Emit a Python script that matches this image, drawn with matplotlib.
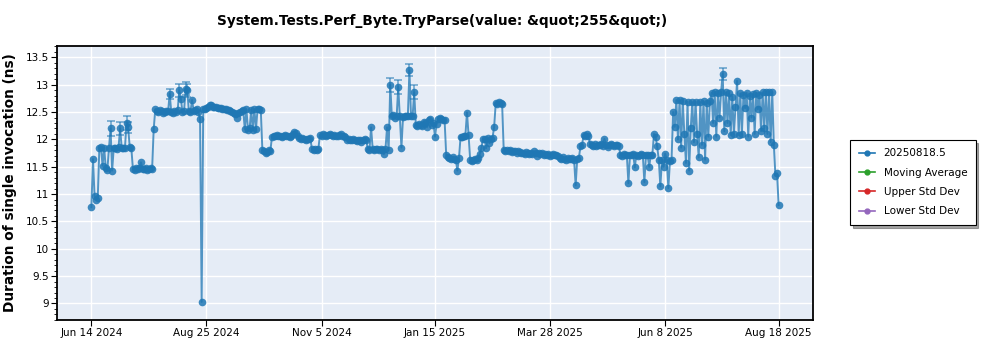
import numpy as np
import pandas as pd
import matplotlib
matplotlib.use("Agg")
import matplotlib.pyplot as plt
from matplotlib.ticker import MultipleLocator

# -----------------------
# Data (one value per day from Jun 14 2024)
# -----------------------
start_date = "2024-06-14"
durations = [
    10.76, 11.64, 10.97, 10.90, 10.93, 11.85, 11.86, 11.52, 11.85, 11.48,  # d0
    11.44, 11.84, 12.20, 11.43, 11.84, 11.85, 11.83, 11.86, 12.20, 11.84,  # d10
    11.85, 11.84, 12.30, 12.22, 11.86, 11.84, 11.46, 11.44, 11.47, 11.45,  # d20
    11.48, 11.58, 11.46, 11.45, 11.47, 11.44, 11.46, 11.47, 11.45, 12.19,  # d30
    12.55, 12.52, 12.50, 12.53, 12.51, 12.49, 12.50, 12.52, 12.51, 12.83,  # d40
    12.50, 12.49, 12.52, 12.50, 12.53, 12.90, 12.74, 12.50, 12.52, 12.93,  # d50
    12.90, 12.51, 12.50, 12.72, 12.52, 12.53, 12.55, 12.50, 12.38, 9.03,   # d60
    12.55, 12.56, 12.58, 12.60, 12.62, 12.63, 12.60, 12.59, 12.60, 12.58,  # d70
    12.57, 12.58, 12.56, 12.55, 12.56, 12.54, 12.53, 12.52, 12.50, 12.48,  # d80
    12.47, 12.40, 12.48, 12.50, 12.52, 12.53, 12.19, 12.55, 12.18, 12.20,  # d90
    12.54, 12.17, 12.55, 12.19, 12.56, 12.55, 12.54, 11.80, 11.78, 11.75,  # d100
    11.77, 11.80, 11.79, 12.05, 12.07, 12.06, 12.08, 12.07, 12.06, 12.05,  # d110
    12.07, 12.08, 12.07, 12.06, 12.05, 12.07, 12.10, 12.14, 12.12, 12.06,  # d120
    12.03, 12.00, 12.02, 12.00, 11.99, 12.01, 12.00, 12.02, 11.82, 11.80,  # d130
    11.83, 11.80, 11.82, 12.08, 12.07, 12.09, 12.08, 12.07, 12.08, 12.09,  # d140
    12.08, 12.07, 12.08, 12.06, 12.07, 12.08, 12.09, 12.07, 12.06, 12.05,  # d150
    11.99, 12.00, 11.98, 11.99, 12.00, 11.98, 11.97, 11.99, 11.98, 11.96,  # d160
    11.99, 12.00, 11.98, 11.82, 11.80, 12.22, 11.83, 11.81, 11.82, 11.83,  # d170
    11.80, 11.82, 11.81, 11.73, 11.82, 12.22, 11.80, 13.00, 12.42, 12.44,  # d180
    12.40, 12.42, 12.96, 12.42, 11.85, 12.41, 12.42, 12.43, 12.42, 13.26,  # d190
    12.42, 12.43, 12.86, 12.26, 12.25, 12.28, 12.26, 12.24, 12.32, 12.30,  # d200
    12.22, 12.35, 12.38, 12.26, 12.30, 12.05, 12.28, 12.38, 12.40, 12.38,  # d210
    12.36, 12.35, 11.72, 11.68, 11.66, 11.64, 11.67, 11.65, 11.63, 11.43,  # d220
    11.66, 12.05, 12.04, 12.06, 12.07, 12.49, 12.08, 11.63, 11.60, 11.62,  # d230
    11.64, 11.63, 11.66, 11.73, 11.84, 12.01, 12.00, 11.84, 12.02, 11.93,  # d240
    12.01, 12.03, 12.23, 12.66, 12.65, 12.68, 12.66, 12.64, 11.80, 11.78,  # d250
    11.81, 11.79, 11.80, 11.77, 11.78, 11.79, 11.76, 11.78, 11.77, 11.75,  # d260
    11.76, 11.74, 11.77, 11.75, 11.73, 11.76, 11.74, 11.78, 11.76, 11.70,  # d270
    11.75, 11.74, 11.76, 11.72, 11.74, 11.71, 11.73, 11.70, 11.72, 11.74,  # d280
    11.71, 11.72, 11.70, 11.66, 11.64, 11.67, 11.65, 11.62, 11.66, 11.64,  # d290
    11.65, 11.66, 11.63, 11.16, 11.65, 11.66, 11.87, 11.90, 12.08, 12.07,  # d300
    12.09, 12.06, 11.92, 11.90, 11.88, 11.91, 11.87, 11.90, 11.89, 11.92,  # d310
    11.88, 12.01, 11.90, 11.86, 11.89, 11.91, 11.90, 11.87, 11.89, 11.90,  # d320
    11.88, 11.72, 11.70, 11.73, 11.71, 11.72, 11.20, 11.72, 11.71, 11.73,  # d330
    11.49, 11.72, 11.70, 11.71, 11.73, 11.72, 11.22, 11.71, 11.72, 11.50,  # d340
    11.71, 11.72, 12.10, 12.05, 11.87, 11.63, 11.14, 11.63, 11.50, 11.74,  # d350
    11.62, 11.11, 11.60, 11.63, 12.50, 12.23, 12.72, 12.00, 12.72, 11.85,  # d360
    12.71, 12.10, 11.57, 12.69, 11.43, 12.20, 12.68, 11.95, 12.69, 12.10,  # d370
    11.67, 12.68, 11.90, 12.70, 11.63, 12.66, 12.05, 12.70, 12.85, 12.30,  # d380
    12.86, 12.05, 12.84, 12.40, 12.87, 13.20, 12.15, 12.86, 12.30, 12.84,  # d390
    12.08, 12.78, 12.10, 12.60, 13.07, 12.08, 12.84, 12.10, 12.82, 12.57,  # d400
    12.85, 12.05, 12.80, 12.40, 12.83, 12.10, 12.85, 12.55, 12.82, 12.15,  # d410
    12.86, 12.20, 12.87, 12.10, 12.87, 11.95, 12.86, 11.90, 11.33, 11.38,  # d420
    10.80,                                                                 # d430
]

# days (offset from start_date) that carry an error bar, and its half-size
err_days = [12, 18, 22, 23, 49, 55, 59, 60, 187, 192, 199, 202, 395]
err_sizes = [0.14, 0.12, 0.12, 0.10, 0.10, 0.12, 0.12, 0.12, 0.13, 0.13, 0.11, 0.13, 0.11]

tick_labels = ["Jun 14 2024", "Aug 25 2024", "Nov 5 2024", "Jan 15 2025",
               "Mar 28 2025", "Jun 8 2025", "Aug 18 2025"]

series_name = "20250818.5"
legend_names = [series_name, "Moving Average", "Upper Std Dev", "Lower Std Dev"]
legend_colors = ["#1f77b4", "#2ca02c", "#d62728", "#9467bd"]

title = "System.Tests.Perf_Byte.TryParse(value: &quot;255&quot;)"
ylabel = "Duration of single invocation (ns)"

# -----------------------
# Plot
# -----------------------
plt.rcParams['font.family'] = ['DejaVu Sans']

dates = pd.date_range(start_date, periods=len(durations), freq="D")
vals = np.array(durations)

fig = plt.figure(figsize=(10, 3.5), dpi=100)
ax = fig.add_axes([0.057, 0.086, 0.756, 0.783])
ax.set_facecolor("#E5ECF6")

blue = legend_colors[0]
ax.plot(dates, vals, color=blue, linewidth=1.4, alpha=0.75, zorder=3)
ax.plot(dates, vals, linestyle="none", marker="o", markersize=5.5,
        color=blue, alpha=0.85, markeredgewidth=0, zorder=4)

err_x = dates[err_days]
err_y = vals[err_days]
ax.errorbar(err_x, err_y, yerr=err_sizes, fmt="none", ecolor=blue,
            elinewidth=1.2, capsize=3, capthick=1.2, alpha=0.6, zorder=2)

# x axis: evenly spaced ticks from first to last date, 5% margins
tick_dates = pd.to_datetime(tick_labels, format="%b %d %Y")
span = dates[-1] - dates[0]
ax.set_xlim(dates[0] - span * 0.05, dates[-1] + span * 0.05)
ax.set_xticks(tick_dates)
ax.set_xticklabels(tick_labels, fontsize=7.5)

ax.set_ylim(8.7, 13.71)
ax.yaxis.set_major_locator(MultipleLocator(0.5))
ax.yaxis.set_minor_locator(MultipleLocator(0.1))
ax.set_yticks(np.arange(9, 13.51, 0.5))
ax.set_yticklabels([f"{v:g}" for v in np.arange(9, 13.51, 0.5)], fontsize=7.5)
ax.tick_params(axis="both", which="major", length=4, width=0.8, pad=2)
ax.tick_params(axis="y", which="minor", length=2, width=0.6)

ax.grid(True, which="major", color="white", linewidth=1.0)
ax.set_axisbelow(True)
for s in ax.spines.values():
    s.set_color("black")
    s.set_linewidth(1.3)

ax.set_ylabel(ylabel, fontsize=9.8, fontweight="bold", labelpad=6)
fig.suptitle(title, fontsize=9.8, fontweight="bold", x=0.442, y=0.96)

# legend (only the main series is drawn, the rest are legend entries)
handles = [plt.Line2D([], [], color=c, marker="o", markersize=3.5, linewidth=1.2)
           for c in legend_colors]
leg = fig.legend(handles, legend_names, loc="upper left",
                 bbox_to_anchor=(0.845, 0.615), fontsize=7.5, frameon=True,
                 fancybox=False, shadow=True, edgecolor="black",
                 handlelength=1.6, borderpad=0.8, labelspacing=0.9)
leg.get_frame().set_linewidth(0.8)

fig.savefig("out.png", dpi=100)
